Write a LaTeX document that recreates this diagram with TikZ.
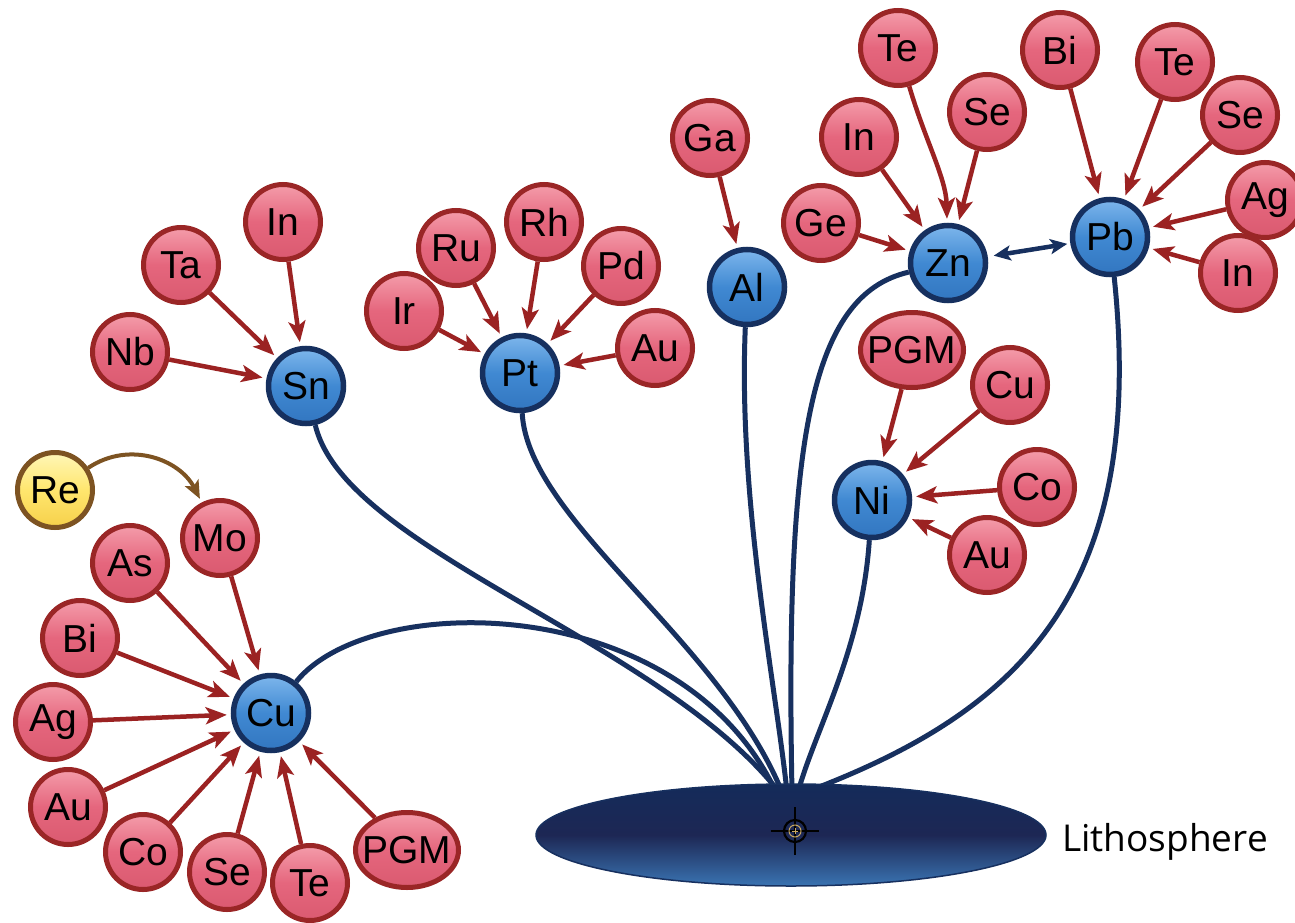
\documentclass[tikz,border=0pt]{standalone}
\usepackage{fontspec}
\setmainfont{Liberation Sans}
\newfontfamily\lithofont{Open Sans}
\usetikzlibrary{arrows.meta,shapes.geometric}
\definecolor{rtop}{HTML}{F49CAA}
\definecolor{rmid}{HTML}{E5667D}
\definecolor{rbot}{HTML}{DA5A70}
\definecolor{rborder}{HTML}{9A2626}
\definecolor{rarrow}{HTML}{9B2222}
\definecolor{btop}{HTML}{7DB6EC}
\definecolor{bmid}{HTML}{4089D2}
\definecolor{bbot}{HTML}{3276C0}
\definecolor{bborder}{HTML}{16305F}
\definecolor{ytop}{HTML}{FFF7B8}
\definecolor{ymid}{HTML}{FFE66E}
\definecolor{ybot}{HTML}{F6D04A}
\definecolor{yborder}{HTML}{7D5322}
\definecolor{navy}{HTML}{17305F}
\definecolor{ltop}{HTML}{142B5A}
\definecolor{lmid}{HTML}{1D2754}
\definecolor{lbot}{HTML}{3A74B2}
\definecolor{gold}{HTML}{C8A860}
\begin{document}
\begin{tikzpicture}[x=1pt,y=-1pt,
  el/.style={circle, minimum size=75pt, inner sep=0pt, font=\fontsize{39}{42}\selectfont},
  rnode/.style={el, draw=rborder, line width=5pt, top color=rtop, bottom color=rbot, middle color=rmid},
  pgmnode/.style={rnode, ellipse, minimum width=103pt, minimum height=75pt},
  bnode/.style={el, draw=bborder, line width=5.5pt, top color=btop, bottom color=bbot, middle color=bmid},
  ynode/.style={el, draw=yborder, line width=5pt, top color=ytop, bottom color=ybot, middle color=ymid},
  ra/.style={draw=rarrow, line width=4.5pt, -{Stealth[length=21pt,width=17pt,inset=5pt]}, shorten >=4pt},
  ya/.style={draw=yborder, line width=4pt, -{Stealth[length=18pt,width=15pt,inset=4pt]}, shorten >=4pt},
  nv/.style={draw=navy, line width=5pt},
  dbl/.style={draw=navy, line width=4.5pt, {Stealth[length=17pt,width=15pt,inset=4pt]}-{Stealth[length=17pt,width=15pt,inset=4pt]}, shorten <=6pt, shorten >=3pt}
]
\clip (0,0) rectangle (1295,923);
\fill[white] (0,0) rectangle (1295,923);

% blue nodes
\node[bnode] (cu) at (271,713) {Cu};
\node[bnode] (sn) at (306,386) {Sn};
\node[bnode] (pt) at (520,373) {Pt};
\node[bnode] (al) at (747,287) {Al};
\node[bnode] (zn) at (948,263) {Zn};
\node[bnode] (pb) at (1110,237) {Pb};
\node[bnode] (ni) at (872,500) {Ni};

% Sn group
\node[rnode] (snIn) at (283,222) {In};
\node[rnode] (snTa) at (181,265) {Ta};
\node[rnode] (snNb) at (130,352) {Nb};
% Pt group
\node[rnode] (ptRh) at (544,222) {Rh};
\node[rnode] (ptRu) at (456,248) {Ru};
\node[rnode] (ptPd) at (621,266) {Pd};
\node[rnode] (ptIr) at (404,311) {Ir};
\node[rnode] (ptAu) at (655,348) {Au};
% Al group
\node[rnode] (alGa) at (710,138) {Ga};
% Zn group
\node[rnode] (znTe) at (898,48) {Te};
\node[rnode] (znSe) at (987,112) {Se};
\node[rnode] (znIn) at (859,137) {In};
\node[rnode] (znGe) at (821,223) {Ge};
% Pb group
\node[rnode] (pbBi) at (1060,50) {Bi};
\node[rnode] (pbTe) at (1175,62) {Te};
\node[rnode] (pbSe) at (1240,115) {Se};
\node[rnode] (pbAg) at (1265,200) {Ag};
\node[rnode] (pbIn) at (1238,273) {In};
% Ni group
\node[pgmnode] (niPGM) at (912,350) {\makebox[0pt]{PGM}};
\node[rnode] (niCu) at (1010,385) {Cu};
\node[rnode] (niCo) at (1037,487) {Co};
\node[rnode] (niAu) at (987,555) {Au};
% Cu group
\node[rnode] (cuMo) at (220,538) {Mo};
\node[rnode] (cuAs) at (130,563) {As};
\node[rnode] (cuBi) at (80,638) {Bi};
\node[rnode] (cuAg) at (53,722) {Ag};
\node[rnode] (cuAu) at (68,807) {Au};
\node[rnode] (cuCo) at (143,852) {Co};
\node[rnode] (cuSe) at (227,872) {Se};
\node[rnode] (cuTe) at (310,883) {Te};
\node[pgmnode] (cuPGM) at (407,850) {\makebox[0pt]{PGM}};
\node[ynode] (re) at (55,490) {Re};

% red arrows
\draw[ra] (snIn) -- (sn);
\draw[ra] (snTa) -- (sn);
\draw[ra] (snNb) -- (sn);
\draw[ra] (ptRh) -- (pt);
\draw[ra] (ptRu) -- (pt);
\draw[ra] (ptPd) -- (pt);
\draw[ra] (ptIr) -- (pt);
\draw[ra] (ptAu) -- (pt);
\draw[ra] (alGa) -- (al);
\draw[ra] (znTe) .. controls (925,140) and (946,178) .. (zn);
\draw[ra] (znSe) -- (zn);
\draw[ra] (znIn) -- (zn);
\draw[ra] (znGe) -- (zn);
\draw[ra] (pbBi) -- (pb);
\draw[ra] (pbTe) -- (pb);
\draw[ra] (pbSe) -- (pb);
\draw[ra] (pbAg) -- (pb);
\draw[ra] (pbIn) -- (pb);
\draw[ra] (niPGM) -- (ni);
\draw[ra] (niCu) -- (ni);
\draw[ra] (niCo) -- (ni);
\draw[ra] (niAu) -- (ni);
\draw[ra] (cuMo) -- (cu);
\draw[ra] (cuAs) -- (cu);
\draw[ra] (cuBi) -- (cu);
\draw[ra] (cuAg) -- (cu);
\draw[ra] (cuAu) -- (cu);
\draw[ra] (cuCo) -- (cu);
\draw[ra] (cuSe) -- (cu);
\draw[ra] (cuTe) -- (cu);
\draw[ra] (cuPGM) -- (cu);
\draw[ya] (re) .. controls (130,440) and (180,460) .. (cuMo);
\draw[dbl] (zn) -- (pb);

% hub connectors
\coordinate (hCu) at (776,792);
\coordinate (hSn) at (779,792);
\coordinate (hPt) at (782,792);
\coordinate (hAl) at (787,792);
\coordinate (hZn) at (792,792);
\coordinate (hNi) at (798,792);
\coordinate (hPb) at (806,792);
\draw[nv] (cu) .. controls (370,590) and (680,590) .. (hCu);
\draw[nv] (sn) .. controls (345,550) and (660,640) .. (hSn);
\draw[nv] (pt) .. controls (528,520) and (720,640) .. (hPt);
\draw[nv] (al) .. controls (738,500) and (775,680) .. (hAl);
\draw[nv] (zn) .. controls (810,295) and (785,440) .. (hZn);
\draw[nv] (ni) .. controls (862,650) and (815,730) .. (hNi);
\draw[nv] (pb) .. controls (1148,600) and (1010,715) .. (hPb);

% lithosphere
\node[ellipse, minimum width=510pt, minimum height=102pt, draw=navy, line width=1.5pt,
      top color=ltop, bottom color=lbot, middle color=lmid] (litho) at (791,835) {};
\draw[black, line width=1.6pt] (795,807) -- (795,855) (771,831) -- (819,831);
\draw[black, line width=2.2pt] (795,831) circle[radius=11];
\draw[gold, line width=1pt] (795,831) circle[radius=6];
\draw[gold, line width=0.8pt] (792,831) -- (798,831) (795,828) -- (795,834);
\node[anchor=west, inner sep=0pt, font=\lithofont\fontsize{37}{40}\selectfont] (lbl) at (1062,842) {Lithosphere};
\end{tikzpicture}
\end{document}
